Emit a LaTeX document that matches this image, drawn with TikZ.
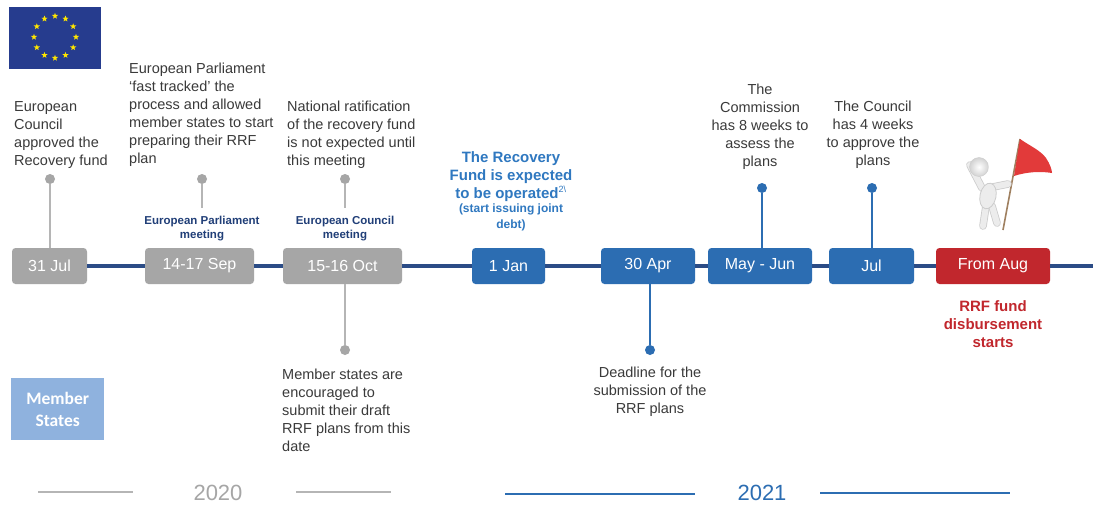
\documentclass[tikz,border=0pt]{standalone}
\usepackage{fontspec}
\setmainfont{Liberation Sans}
\newfontfamily\calibri{Carlito}
\usetikzlibrary{shapes.geometric,calc}

\definecolor{navyline}{HTML}{2B4C86}
\definecolor{greybox}{HTML}{A6A6A6}
\definecolor{greystem}{HTML}{B5B5B5}
\definecolor{bluebox}{HTML}{2C6DB2}
\definecolor{redbox}{HTML}{C1272D}
\definecolor{bodytext}{HTML}{3A3A3A}
\definecolor{navylabel}{HTML}{213F78}
\definecolor{bluetext}{HTML}{2F78C0}
\definecolor{msbox}{HTML}{8FB2DE}
\definecolor{eublue}{HTML}{263C8E}
\definecolor{eustar}{HTML}{FFE600}
\definecolor{flagred}{HTML}{E23A3A}

\tikzset{
  datebox/.style={rounded corners=3.5pt, minimum height=36pt, inner sep=0pt,
    text=white, font=\fontsize{16}{18}\selectfont},
  greydate/.style={datebox, fill=greybox},
  bluedate/.style={datebox, fill=bluebox},
  reddate/.style={datebox, fill=redbox},
  timeline/.style={draw=navyline, line width=4pt},
  greydot/.style={circle, fill=greybox, minimum size=10pt, inner sep=0pt},
  bluedot/.style={circle, fill=bluebox, minimum size=10pt, inner sep=0pt},
  greyline/.style={draw=greystem, line width=1.8pt},
  blueline/.style={draw=bluebox, line width=1.8pt},
  note/.style={inner sep=0pt, text=bodytext, font=\fontsize{14.5}{18}\selectfont},
  meeting/.style={inner sep=0pt, align=center, text=navylabel,
    font=\fontsize{11.5}{14}\selectfont\bfseries},
  eustarshape/.style={star, star points=5, star point ratio=2.4, fill=eustar,
    inner sep=0pt, minimum size=6.5pt},
  figurelimb/.style={line width=6pt, line cap=round, draw=gray!15},
  figureedge/.style={line width=7.6pt, line cap=round, draw=gray!40},
}

\begin{document}
\begin{tikzpicture}[x=1pt, y=-1pt]
\useasboundingbox[fill=white] (0,0) rectangle (1093,509);

% EU flag
\node (euflag) [fill=eublue, minimum width=92pt, minimum height=62pt, inner sep=0pt,
  anchor=north west] at (9,7) {};
\foreach \k in {0,...,11}
  \node (eustar\k) [eustarshape] at ($(55,37)+(90-30*\k:21)$) {};

% date boxes
\node (b1) [greydate, minimum width=75pt]  at (49.5,266) {31 Jul};
\node (b2) [greydate, minimum width=109pt] at (199.5,266) {14-17 Sep};
\node (b3) [greydate, minimum width=119pt] at (342.5,266) {15-16 Oct};
\node (b4) [bluedate, minimum width=73pt]  at (508.5,266) {1 Jan};
\node (b5) [bluedate, minimum width=94pt]  at (648,266) {30 Apr};
\node (b6) [bluedate, minimum width=104pt] at (760,266) {May - Jun};
\node (b7) [bluedate, minimum width=85pt]  at (871.5,266) {Jul};
\node (b8) [reddate, minimum width=114pt]  at (993,266) {From Aug};
\coordinate (lineend) at (1093,266);

% timeline segments
\draw[timeline] (b1.east) -- (b2.west);
\draw[timeline] (b2.east) -- (b3.west);
\draw[timeline] (b3.east) -- (b4.west);
\draw[timeline] (b4.east) -- (b5.west);
\draw[timeline] (b5.east) -- (b6.west);
\draw[timeline] (b6.east) -- (b7.west);
\draw[timeline] (b7.east) -- (b8.west);
\draw[timeline] (b8.east) -- (lineend);

% 31 Jul
\node (dA) [greydot] at (50,179) {};
\draw[greyline] (dA) -- (dA |- b1.north);
\node (tA) [note, align=left, anchor=north west] at (14,101)
  {European\\Council\\approved the\\Recovery fund};

% 14-17 Sep
\node (dB) [greydot] at (202,179) {};
\coordinate (sB) at (202,208);
\draw[greyline] (dB) -- (sB);
\node (mB) [meeting] at (202,229) {European Parliament\\meeting};
\node (tB) [note, align=left, anchor=north west] at (129,63)
  {European Parliament\\‘fast tracked’ the\\process and allowed\\member states to start\\preparing their RRF\\plan};

% 15-16 Oct
\node (dC) [greydot] at (345,179) {};
\coordinate (sC) at (345,208);
\draw[greyline] (dC) -- (sC);
\node (mC) [meeting] at (345,229) {European Council\\meeting};
\node (tC) [note, align=left, anchor=north west] at (287,101)
  {National ratification\\of the recovery fund\\is not expected until\\this meeting};
\node (dC2) [greydot] at (345,350) {};
\draw[greyline] (dC2 |- b3.south) -- (dC2);
\node (tC2) [note, align=left, anchor=north west] at (282,369)
  {Member states are\\encouraged to\\submit their draft\\RRF plans from this\\date};

% 1 Jan
\node (tD) [inner sep=0pt, align=center, text=bluetext, anchor=north,
  font=\fontsize{15}{18}\selectfont\bfseries] at (511,151)
  {The Recovery\\Fund is expected\\to be operated\textsuperscript{\fontsize{9}{9}\selectfont\mdseries 2\textbackslash}};
\node (tD2) [inner sep=0pt, align=center, text=bluetext, anchor=north,
  font=\fontsize{12}{16}\selectfont\bfseries] at (511,204)
  {(start issuing joint\\debt)};

% 30 Apr
\node (dE) [bluedot] at (650,350) {};
\draw[blueline] (dE |- b5.south) -- (dE);
\node (tE) [note, align=center, anchor=north] at (650,367)
  {Deadline for the\\submission of the\\RRF plans};

% May - Jun
\node (dF) [bluedot] at (762,188) {};
\draw[blueline] (dF) -- (dF |- b6.north);
\node (tF) [note, align=center, anchor=north] at (760,84)
  {The\\Commission\\has 8 weeks to\\assess the\\plans};

% Jul
\node (dG) [bluedot] at (872,188) {};
\draw[blueline] (dG) -- (dG |- b7.north);
\node (tG) [note, align=center, anchor=north] at (873,101)
  {The Council\\has 4 weeks\\to approve the\\plans};

% From Aug
\node (tH) [inner sep=0pt, align=center, text=redbox, anchor=north,
  font=\fontsize{15}{18}\selectfont\bfseries] at (993,300)
  {RRF fund\\disbursement\\starts};

% little figure holding a red flag
\draw[line width=1.6pt, draw=brown!50!gray] (1003,230) -- (1020,139);
\fill[flagred] (1020,139) .. controls (1030,146) and (1040,150) .. (1046,158)
  .. controls (1050,164) and (1052,170) .. (1052,173)
  .. controls (1040,171) and (1026,172) .. (1014,176) -- cycle;
\foreach \s in {figureedge, figurelimb} {
  \draw[\s] (986,206) -- (983,226);
  \draw[\s] (992,206) -- (997,223);
  \draw[\s] (982,188) -- (970,165);
  \draw[\s] (993,187) -- (1008,184);
}
\fill[gray!15, draw=gray!40, line width=0.8pt, rotate around={-12:(988,196)}]
  (988,196) ellipse [x radius=8, y radius=13];
\shade[inner color=white, outer color=gray!35, draw=gray!40] (979,167) circle [radius=9.5];

% Member States box
\node (ms) [fill=msbox, minimum width=93pt, minimum height=62pt, inner sep=0pt,
  text=white, align=center, font=\calibri\fontsize{17.5}{22}\selectfont\bfseries,
  anchor=north west] at (11,378) {Member\\States};

% years
\node (y20) [text=greybox, font=\fontsize{22}{24}\selectfont, inner sep=0pt] at (218,493) {2020};
\coordinate (y20a) at (38,492);
\coordinate (y20b) at (133,492);
\coordinate (y20c) at (296,492);
\coordinate (y20d) at (391,492);
\draw[draw=greystem, line width=1.5pt] (y20a) -- (y20b);
\draw[draw=greystem, line width=1.5pt] (y20c) -- (y20d);
\node (y21) [text=bluebox, font=\fontsize{22}{24}\selectfont, inner sep=0pt] at (762,493) {2021};
\coordinate (y21a) at (505,494);
\coordinate (y21b) at (695,494);
\coordinate (y21c) at (820,493);
\coordinate (y21d) at (1010,493);
\draw[draw=bluebox, line width=1.5pt] (y21a) -- (y21b);
\draw[draw=bluebox, line width=1.5pt] (y21c) -- (y21d);
\end{tikzpicture}
\end{document}
